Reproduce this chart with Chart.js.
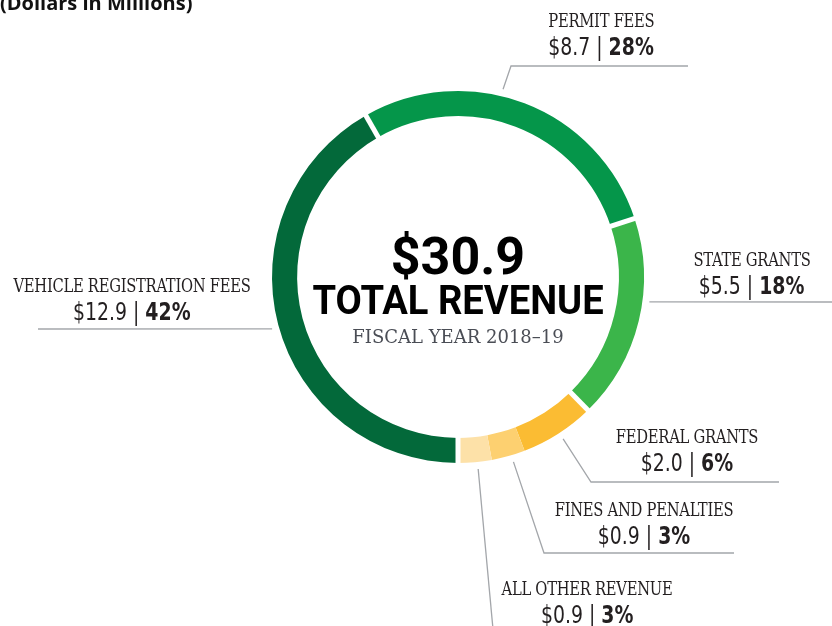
<!DOCTYPE html>
<html>
<head>
<meta charset="utf-8">
<script src="https://cdn.jsdelivr.net/npm/chart.js@4.4.1/dist/chart.umd.min.js"></script>
<style>
  html, body { margin: 0; padding: 0; background: #fff; }
  #wrap { position: relative; width: 832px; height: 626px; overflow: hidden; }
  #revenueChart { position: absolute; left: 0; top: 0; }
  .title { position: absolute; left: 0; top: -11px; font: bold 20px "Open Sans", sans-serif; color: #111; white-space: nowrap; }
  .lbl { position: absolute; transform: translateX(-50%); text-align: center; white-space: nowrap; color: #231f20; }
  .lbl .name { display: inline-block; font: 18px "DejaVu Serif Condensed", "DejaVu Serif", serif; line-height: 18px; letter-spacing: -0.3px; transform: scaleX(0.91); }
  .lbl .val { display: inline-block; font: 25px "DejaVu Sans Condensed", sans-serif; line-height: 26px; margin-top: 3px; transform: scaleX(0.84); }
  .lbl .val b { font-weight: bold; }
  .center { position: absolute; transform: translateX(-50%); text-align: center; white-space: nowrap; }
  .big { font: bold 52px Roboto, sans-serif; line-height: 52px; color: #000; margin-top: 4px; }
  .sub { display: inline-block; font: bold 41px Roboto, sans-serif; line-height: 41px; color: #000; transform: scaleX(0.93); margin-top: -3px; }
  .fy { font: 18px "DejaVu Serif", serif; line-height: 20px; color: #4a4d55; margin-top: 6px; }
</style>
</head>
<body>
<div id="wrap">
  <canvas id="revenueChart" width="832" height="626"></canvas>
  <div class="title">(Dollars in Millions)</div>
</div>
<script>
// Revenue categories, amounts ($ millions) and shares
const categories = ['VEHICLE REGISTRATION FEES', 'PERMIT FEES', 'STATE GRANTS', 'FEDERAL GRANTS', 'FINES AND PENALTIES', 'ALL OTHER REVENUE'];
const amounts = [12.9, 8.7, 5.5, 2.0, 0.9, 0.9];
const shares = [42, 28, 18, 6, 3, 3];
const totalRevenue = '$30.9';
const fiscalYear = 'FISCAL YEAR 2018–19';

const sliceColors = ['#03693a', '#05964a', '#3bb54a', '#fbbc33', '#fdd070', '#fde1a8'];

// label block positions (center x, top y)
const labelPos = [
  { x: 132, y: 277 },
  { x: 601, y: 12 },
  { x: 752, y: 251 },
  { x: 687, y: 428 },
  { x: 644, y: 501 },
  { x: 587, y: 580 }
];

// leader lines: start angle on the ring (deg, clockwise from top), then fixed points
const leaders = [
  { angle: 254.4, pts: [[38, 329]] },
  { angle: 13.5, pts: [[511, 66], [688, 66]] },
  { angle: 97.4, pts: [[832, 302]] },
  { angle: 147, pts: [[591, 482], [779, 482]] },
  { angle: 163.3, pts: [[544, 553], [734, 553]] },
  { angle: 174, pts: [[494, 640]] }
];

// white gaps between some slices (boundary angles taken from the arc elements)
const gapPlugin = {
  id: 'gaps',
  afterDatasetsDraw(chart) {
    const arcs = chart.getDatasetMeta(0).data;
    const c = chart.ctx;
    const cuts = [arcs[0].startAngle, arcs[0].endAngle, arcs[1].endAngle, arcs[2].endAngle];
    c.save();
    c.strokeStyle = '#fff';
    c.lineWidth = 5;
    cuts.forEach(a => {
      const p = arcs[0];
      c.beginPath();
      c.moveTo(p.x + Math.cos(a) * (p.innerRadius - 2), p.y + Math.sin(a) * (p.innerRadius - 2));
      c.lineTo(p.x + Math.cos(a) * (p.outerRadius + 2), p.y + Math.sin(a) * (p.outerRadius + 2));
      c.stroke();
    });
    // leader lines
    c.strokeStyle = '#a3a6aa';
    c.lineWidth = 1.3;
    leaders.forEach(l => {
      const p = arcs[0];
      const a = (l.angle - 90) * Math.PI / 180;
      const r = p.outerRadius + 7;
      c.beginPath();
      c.moveTo(p.x + Math.cos(a) * r, p.y + Math.sin(a) * r);
      l.pts.forEach(pt => c.lineTo(pt[0], pt[1]));
      c.stroke();
    });
    c.restore();
  }
};

const chart = new Chart(document.getElementById('revenueChart'), {
  type: 'doughnut',
  data: {
    labels: categories,
    datasets: [{
      data: amounts,
      backgroundColor: sliceColors,
      borderWidth: 0
    }]
  },
  options: {
    responsive: false,
    animation: false,
    rotation: 180,
    cutout: '86.5%',
    layout: { padding: { top: 91, bottom: 163, left: 272, right: 188 } },
    plugins: { legend: { display: false }, tooltip: { enabled: false } }
  },
  plugins: [gapPlugin]
});

// text labels
const wrap = document.getElementById('wrap');
categories.forEach((name, i) => {
  const d = document.createElement('div');
  d.className = 'lbl';
  d.style.left = labelPos[i].x + 'px';
  d.style.top = labelPos[i].y + 'px';
  d.innerHTML = `<div class="name">${name}</div><br><div class="val">$${amounts[i].toFixed(1)} | <b>${shares[i]}%</b></div>`;
  wrap.appendChild(d);
});

const arc0 = chart.getDatasetMeta(0).data[0];
const ctr = document.createElement('div');
ctr.className = 'center';
ctr.style.left = arc0.x + 'px';
ctr.style.top = (arc0.y - 50) + 'px';
ctr.innerHTML = `<div class="big">${totalRevenue}</div><div class="sub">TOTAL REVENUE</div><div class="fy">${fiscalYear}</div>`;
wrap.appendChild(ctr);
</script>
</body>
</html>
